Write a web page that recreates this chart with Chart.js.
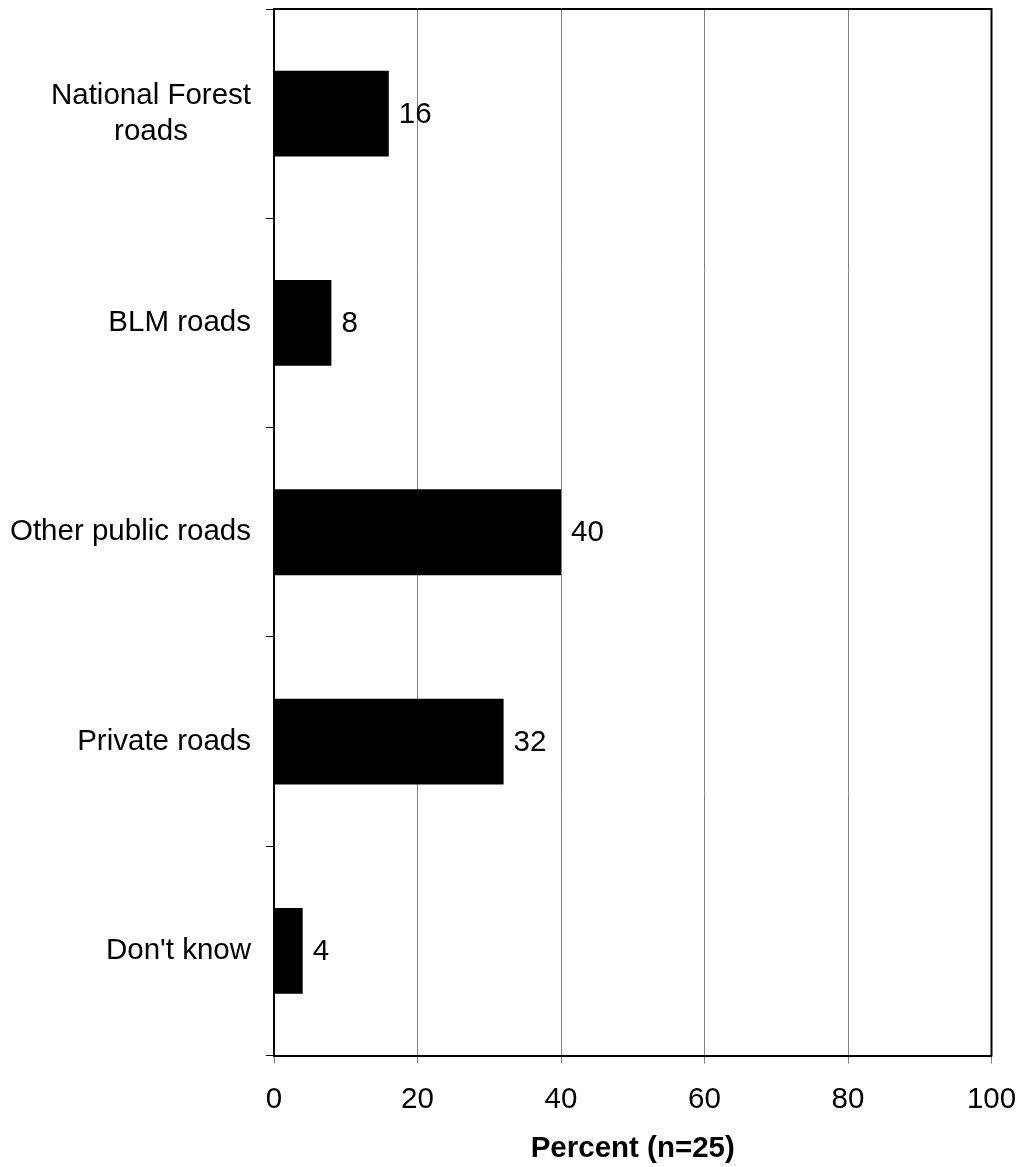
<!DOCTYPE html>
<html>
<head>
<meta charset="utf-8">
<script src="https://cdn.jsdelivr.net/npm/chart.js@4/dist/chart.umd.min.js"></script>
<style>
  html, body { margin: 0; padding: 0; background: #fff; }
  #wrap { width: 1021px; height: 1167px; }
</style>
</head>
<body>
<div id="wrap"><canvas id="chart" width="1021" height="1167"></canvas></div>
<script>
// Road ownership categories (multi-line labels given as arrays)
const categories = [
  ['National Forest', 'roads'],
  ['BLM roads'],
  ['Other public roads'],
  ['Private roads'],
  ["Don't know"]
];
// Percent of respondents per category
const percents = [16, 8, 40, 32, 4];
// Horizontal axis ticks
const xTicks = [0, 20, 40, 60, 80, 100];
const xTitle = 'Percent (n=25)';

const FONT = '"Liberation Sans", Arial, Helvetica, sans-serif';
const FS = 29.5;

// Category labels, each line centred within a right-aligned block
const categoryLabels = {
  id: 'categoryLabels',
  afterDraw(chart) {
    const { ctx } = chart;
    const yScale = chart.scales.y;
    const right = yScale.right - 8 - 15;
    const lh = FS * 1.22;
    ctx.save();
    ctx.font = FS + 'px ' + FONT;
    ctx.fillStyle = '#000';
    ctx.textAlign = 'center';
    ctx.textBaseline = 'middle';
    categories.forEach((lines, i) => {
      const cy = yScale.getPixelForValue(i);
      const widest = Math.max(...lines.map(l => ctx.measureText(l).width));
      const cx = right - widest / 2;
      const y0 = cy - (lines.length - 1) * lh / 2;
      lines.forEach((l, k) => ctx.fillText(l, cx, y0 + k * lh));
    });
    ctx.restore();
  }
};

// Value printed just past the end of each bar
const valueLabels = {
  id: 'valueLabels',
  afterDatasetsDraw(chart) {
    const { ctx } = chart;
    const meta = chart.getDatasetMeta(0);
    ctx.save();
    ctx.font = FS + 'px ' + FONT;
    ctx.fillStyle = '#000';
    ctx.textAlign = 'left';
    ctx.textBaseline = 'middle';
    meta.data.forEach((bar, i) => {
      ctx.fillText(String(percents[i]), bar.x + 10, bar.y + 1);
    });
    ctx.restore();
  }
};

// Closing frame on the top and right of the plot area
const plotFrame = {
  id: 'plotFrame',
  afterDraw(chart) {
    const { ctx, chartArea: a } = chart;
    ctx.save();
    ctx.strokeStyle = '#000';
    ctx.lineWidth = 2;
    ctx.beginPath();
    ctx.moveTo(a.left - 1, a.top);
    ctx.lineTo(a.right, a.top);
    ctx.lineTo(a.right, a.bottom + 1);
    ctx.stroke();
    ctx.restore();
  }
};

new Chart(document.getElementById('chart'), {
  type: 'bar',
  data: {
    labels: categories.map(c => c.join(' ')),
    datasets: [{
      data: percents,
      backgroundColor: '#000',
      borderWidth: 0,
      barPercentage: 0.41,
      categoryPercentage: 1
    }]
  },
  options: {
    indexAxis: 'y',
    responsive: false,
    animation: false,
    devicePixelRatio: 1,
    layout: { padding: { left: 0, top: 9, right: 29.5, bottom: 0 } },
    plugins: {
      legend: { display: false },
      tooltip: { enabled: false },
      title: { display: false }
    },
    scales: {
      x: {
        type: 'linear',
        min: xTicks[0],
        max: xTicks[xTicks.length - 1],
        afterBuildTicks(scale) { scale.ticks = xTicks.map(v => ({ value: v })); },
        grid: { color: '#808080', lineWidth: 1, tickLength: 8, drawTicks: true },
        border: { color: '#000', width: 2 },
        ticks: { color: '#000', font: { family: FONT, size: FS }, padding: 19, maxRotation: 0 },
        title: {
          display: true,
          text: xTitle,
          color: '#000',
          font: { family: FONT, size: FS, weight: 'bold' },
          padding: { top: 8, bottom: 0 }
        },
        afterFit(scale) {
          scale.height = 111.5;
          scale.paddingLeft = 0;
          scale.paddingRight = 0;
        }
      },
      y: {
        grid: { drawOnChartArea: false, color: '#000', tickLength: 8, offset: true },
        border: { color: '#000', width: 2 },
        ticks: { display: false },
        afterFit(scale) { scale.width = 274; }
      }
    }
  },
  plugins: [categoryLabels, valueLabels, plotFrame]
});
</script>
</body>
</html>
